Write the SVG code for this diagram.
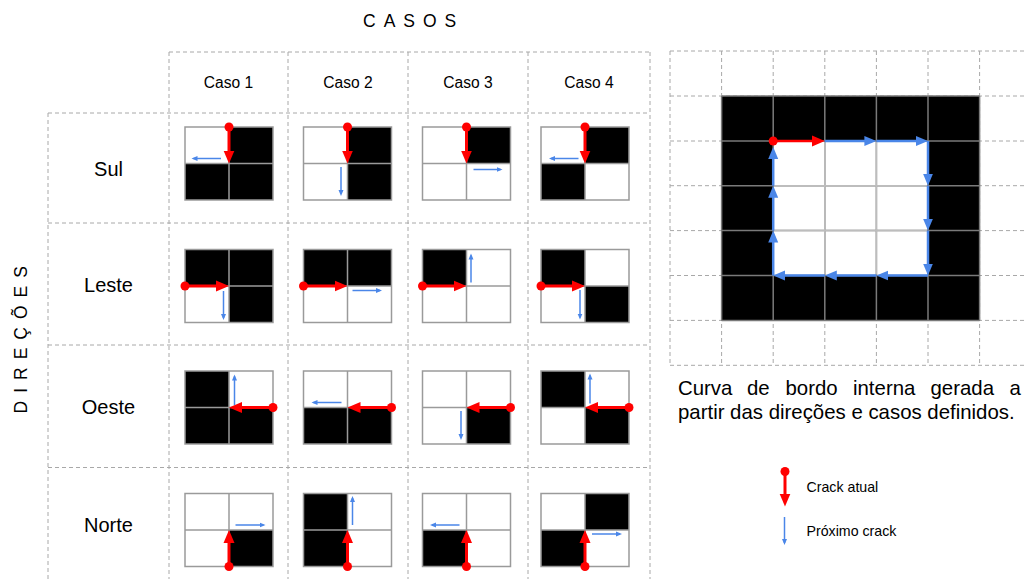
<svg xmlns="http://www.w3.org/2000/svg" width="1024" height="579" viewBox="0 0 1024 579">
<style>
.t{font-family:"Liberation Sans",Arial,sans-serif;fill:#000}
.dash{stroke:#a8a8a8;stroke-width:1;stroke-dasharray:4 3;fill:none}
.w{fill:#fff}
.k{fill:#000}
.grid{stroke:#9a9a9a;stroke-width:1.5;fill:none}
.red{stroke:#f00;stroke-width:3;fill:none;marker-start:url(#dot);marker-end:url(#ra)}
.blue{stroke:#4a86e8;stroke-width:1.5;fill:none;marker-end:url(#ba)}
.bblue{stroke:#4a86e8;stroke-width:2.5;fill:none;marker-end:url(#bb)}
.gred{stroke:#f00;stroke-width:2.5;fill:none;marker-start:url(#dot);marker-end:url(#ra)}
</style>
<defs>
<marker id="ra" markerUnits="userSpaceOnUse" markerWidth="14" markerHeight="12" refX="7" refY="6" orient="auto"><path d="M0,0.5 L13,6 L0,11.5 Z" fill="#f00"/></marker>
<marker id="dot" markerUnits="userSpaceOnUse" markerWidth="10" markerHeight="10" refX="5" refY="5"><circle cx="5" cy="5" r="4.5" fill="#f00"/></marker>
<marker id="ba" markerUnits="userSpaceOnUse" markerWidth="7" markerHeight="6" refX="4" refY="3" orient="auto"><path d="M0,0.5 L6,3 L0,5.5 Z" fill="#4a86e8"/></marker>
<marker id="bb" markerUnits="userSpaceOnUse" markerWidth="13" markerHeight="11" refX="6" refY="5.5" orient="auto"><path d="M0,0.5 L12,5.5 L0,10.5 Z" fill="#4a86e8"/></marker>
</defs>
<rect width="1024" height="579" fill="#fff"/>

<!-- titles -->
<text class="t" x="363" y="26.5" font-size="17.5" letter-spacing="8">CASOS</text>
<text class="t" font-size="17.5" letter-spacing="8" transform="translate(27,413.5) rotate(-90)">DIREÇÕES</text>

<!-- table dashed lines -->
<g id="table" class="dash">
<path d="M169,52H650 M48,113H650 M48,223H650 M48,345H650 M48,467.5H650"/>
<path d="M48,113V580 M169,52V580 M288,52V580 M408,52V580 M528,52V580 M650,52V580"/>
</g>

<g id="headers" class="t" font-size="15.6" text-anchor="middle">
<text x="228.5" y="88">Caso 1</text>
<text x="348" y="88">Caso 2</text>
<text x="468" y="88">Caso 3</text>
<text x="589" y="88">Caso 4</text>
</g>
<g id="rows" class="t" font-size="20" text-anchor="middle">
<text x="108.5" y="176">Sul</text>
<text x="108.5" y="292">Leste</text>
<text x="108.5" y="414">Oeste</text>
<text x="108.5" y="531.5">Norte</text>
</g>

<!-- Sul -->
<g id="sul-c1" transform="translate(185,127)">
<rect class="w" width="88" height="73"/>
<rect class="k" x="44" y="0" width="44" height="36.5"/><rect class="k" x="0" y="36.5" width="44" height="36.5"/><rect class="k" x="44" y="36.5" width="44" height="36.5"/>
<path class="grid" d="M0,0H88V73H0Z M44,0V73 M0,36.5H88"/>
<line class="red" x1="44" y1="0" x2="44" y2="30.5"/>
<line class="blue" x1="36" y1="31.5" x2="8.5" y2="31.5"/>
</g>
<g id="sul-c2" transform="translate(303.5,127)">
<rect class="w" width="88" height="73"/>
<rect class="k" x="44" y="0" width="44" height="36.5"/><rect class="k" x="44" y="36.5" width="44" height="36.5"/>
<path class="grid" d="M0,0H88V73H0Z M44,0V73 M0,36.5H88"/>
<line class="red" x1="44" y1="0" x2="44" y2="30.5"/>
<line class="blue" x1="37.5" y1="40" x2="37.5" y2="67"/>
</g>
<g id="sul-c3" transform="translate(422.5,127)">
<rect class="w" width="88" height="73"/>
<rect class="k" x="44" y="0" width="44" height="36.5"/>
<path class="grid" d="M0,0H88V73H0Z M44,0V73 M0,36.5H88"/>
<line class="red" x1="44" y1="0" x2="44" y2="30.5"/>
<line class="blue" x1="51" y1="42.5" x2="78" y2="42.5"/>
</g>
<g id="sul-c4" transform="translate(541,127)">
<rect class="w" width="88" height="73"/>
<rect class="k" x="44" y="0" width="44" height="36.5"/><rect class="k" x="0" y="36.5" width="44" height="36.5"/>
<path class="grid" d="M0,0H88V73H0Z M44,0V73 M0,36.5H88"/>
<line class="red" x1="44" y1="0" x2="44" y2="30.5"/>
<line class="blue" x1="37.5" y1="31.5" x2="10" y2="31.5"/>
</g>

<!-- Leste -->
<g id="leste-c1" transform="translate(185,249.5)">
<rect class="w" width="88" height="73"/>
<rect class="k" x="0" y="0" width="44" height="36.5"/><rect class="k" x="44" y="0" width="44" height="36.5"/><rect class="k" x="44" y="36.5" width="44" height="36.5"/>
<path class="grid" d="M0,0H88V73H0Z M44,0V73 M0,36.5H88"/>
<line class="red" x1="0" y1="36.5" x2="38" y2="36.5"/>
<line class="blue" x1="38.5" y1="41.5" x2="38.5" y2="68.5"/>
</g>
<g id="leste-c2" transform="translate(303.5,249.5)">
<rect class="w" width="88" height="73"/>
<rect class="k" x="0" y="0" width="44" height="36.5"/><rect class="k" x="44" y="0" width="44" height="36.5"/>
<path class="grid" d="M0,0H88V73H0Z M44,0V73 M0,36.5H88"/>
<line class="red" x1="0" y1="36.5" x2="38" y2="36.5"/>
<line class="blue" x1="49" y1="41" x2="76.5" y2="41"/>
</g>
<g id="leste-c3" transform="translate(422.5,249.5)">
<rect class="w" width="88" height="73"/>
<rect class="k" x="0" y="0" width="44" height="36.5"/>
<path class="grid" d="M0,0H88V73H0Z M44,0V73 M0,36.5H88"/>
<line class="red" x1="0" y1="36.5" x2="38" y2="36.5"/>
<line class="blue" x1="48.5" y1="33" x2="48.5" y2="6"/>
</g>
<g id="leste-c4" transform="translate(541,249.5)">
<rect class="w" width="88" height="73"/>
<rect class="k" x="0" y="0" width="44" height="36.5"/><rect class="k" x="44" y="36.5" width="44" height="36.5"/>
<path class="grid" d="M0,0H88V73H0Z M44,0V73 M0,36.5H88"/>
<line class="red" x1="0" y1="36.5" x2="38" y2="36.5"/>
<line class="blue" x1="39" y1="40.5" x2="39" y2="68"/>
</g>

<!-- Oeste -->
<g id="oeste-c1" transform="translate(185,371)">
<rect class="w" width="88" height="73"/>
<rect class="k" x="0" y="0" width="44" height="36.5"/><rect class="k" x="0" y="36.5" width="44" height="36.5"/><rect class="k" x="44" y="36.5" width="44" height="36.5"/>
<path class="grid" d="M0,0H88V73H0Z M44,0V73 M0,36.5H88"/>
<line class="red" x1="88" y1="36.5" x2="50" y2="36.5"/>
<line class="blue" x1="49.5" y1="34" x2="49.5" y2="5.5"/>
</g>
<g id="oeste-c2" transform="translate(303.5,371)">
<rect class="w" width="88" height="73"/>
<rect class="k" x="0" y="36.5" width="44" height="36.5"/><rect class="k" x="44" y="36.5" width="44" height="36.5"/>
<path class="grid" d="M0,0H88V73H0Z M44,0V73 M0,36.5H88"/>
<line class="red" x1="88" y1="36.5" x2="50" y2="36.5"/>
<line class="blue" x1="38" y1="31.5" x2="10" y2="31.5"/>
</g>
<g id="oeste-c3" transform="translate(422.5,371)">
<rect class="w" width="88" height="73"/>
<rect class="k" x="44" y="36.5" width="44" height="36.5"/>
<path class="grid" d="M0,0H88V73H0Z M44,0V73 M0,36.5H88"/>
<line class="red" x1="88" y1="36.5" x2="50" y2="36.5"/>
<line class="blue" x1="38.5" y1="40" x2="38.5" y2="67"/>
</g>
<g id="oeste-c4" transform="translate(541,371)">
<rect class="w" width="88" height="73"/>
<rect class="k" x="0" y="0" width="44" height="36.5"/><rect class="k" x="44" y="36.5" width="44" height="36.5"/>
<path class="grid" d="M0,0H88V73H0Z M44,0V73 M0,36.5H88"/>
<line class="red" x1="88" y1="36.5" x2="50" y2="36.5"/>
<line class="blue" x1="49" y1="32.5" x2="49" y2="4.5"/>
</g>

<!-- Norte -->
<g id="norte-c1" transform="translate(185,493.5)">
<rect class="w" width="88" height="73"/>
<rect class="k" x="44" y="36.5" width="44" height="36.5"/>
<path class="grid" d="M0,0H88V73H0Z M44,0V73 M0,36.5H88"/>
<line class="red" x1="44" y1="73" x2="44" y2="42.5"/>
<line class="blue" x1="50.5" y1="31.5" x2="78.5" y2="31.5"/>
</g>
<g id="norte-c2" transform="translate(303.5,493.5)">
<rect class="w" width="88" height="73"/>
<rect class="k" x="0" y="0" width="44" height="36.5"/><rect class="k" x="0" y="36.5" width="44" height="36.5"/>
<path class="grid" d="M0,0H88V73H0Z M44,0V73 M0,36.5H88"/>
<line class="red" x1="44" y1="73" x2="44" y2="42.5"/>
<line class="blue" x1="49" y1="31.5" x2="49" y2="4.5"/>
</g>
<g id="norte-c3" transform="translate(422.5,493.5)">
<rect class="w" width="88" height="73"/>
<rect class="k" x="0" y="36.5" width="44" height="36.5"/>
<path class="grid" d="M0,0H88V73H0Z M44,0V73 M0,36.5H88"/>
<line class="red" x1="44" y1="73" x2="44" y2="42.5"/>
<line class="blue" x1="37" y1="31.5" x2="9.5" y2="31.5"/>
</g>
<g id="norte-c4" transform="translate(541,493.5)">
<rect class="w" width="88" height="73"/>
<rect class="k" x="44" y="0" width="44" height="36.5"/><rect class="k" x="0" y="36.5" width="44" height="36.5"/>
<path class="grid" d="M0,0H88V73H0Z M44,0V73 M0,36.5H88"/>
<line class="red" x1="44" y1="73" x2="44" y2="42.5"/>
<line class="blue" x1="51" y1="40.5" x2="79" y2="40.5"/>
</g>

<!-- right grid -->
<g id="big-grid">
<path class="dash" d="M670,51H1024 M670,96H1024 M670,141H1024 M670,185.7H1024 M670,230.6H1024 M670,275.5H1024 M670,320.4H1024 M670,365.3H1024 M670,51V365.3 M721.6,51V365.3 M773.2,51V365.3 M824.8,51V365.3 M876.4,51V365.3 M928,51V365.3 M979.6,51V365.3"/>
<rect class="k" x="721.6" y="96" width="258" height="224.4"/>
<rect class="w" x="773.2" y="141" width="154.8" height="134.5"/>
<path stroke="#7a7a7a" stroke-width="1.5" fill="none" d="M721.6,96H979.6 M721.6,141H979.6 M721.6,185.7H979.6 M721.6,230.6H979.6 M721.6,275.5H979.6 M721.6,320.4H979.6 M721.6,96V320.4 M773.2,96V320.4 M824.8,96V320.4 M876.4,96V320.4 M928,96V320.4 M979.6,96V320.4"/>
<path stroke="#bdbdbd" stroke-width="1.5" fill="none" d="M774,185.7H927 M774,230.6H927 M824.8,142V274.5 M876.4,142V274.5"/>
</g>
<g id="connectors">
<line class="bblue" x1="824.8" y1="141" x2="870.4" y2="141"/>
<line class="bblue" x1="876.4" y1="141" x2="922" y2="141"/>
<line class="bblue" x1="928" y1="141" x2="928" y2="179.7"/>
<line class="bblue" x1="928" y1="185.7" x2="928" y2="224.6"/>
<line class="bblue" x1="928" y1="230.6" x2="928" y2="269.5"/>
<line class="bblue" x1="928" y1="275.5" x2="882.4" y2="275.5"/>
<line class="bblue" x1="876.4" y1="275.5" x2="830.8" y2="275.5"/>
<line class="bblue" x1="824.8" y1="275.5" x2="779.2" y2="275.5"/>
<line class="bblue" x1="773.2" y1="275.5" x2="773.2" y2="236.6"/>
<line class="bblue" x1="773.2" y1="230.6" x2="773.2" y2="191.7"/>
<line class="bblue" x1="773.2" y1="185.7" x2="773.2" y2="153"/>
<line class="gred" x1="773.2" y1="141" x2="818.8" y2="141"/>
</g>

<g id="caption" class="t" font-size="20.4">
<text y="395"><tspan x="678">Curva</tspan><tspan x="747">de</tspan><tspan x="785.5">bordo</tspan><tspan x="853">interna</tspan><tspan x="930.5">gerada</tspan><tspan x="1009.5">a</tspan></text>
<text x="678" y="419">partir das direções e casos definidos.</text>
</g>

<g id="legend">
<line class="red" x1="785" y1="471.5" x2="785" y2="500.5"/>
<line class="blue" x1="784.5" y1="517" x2="784.5" y2="543"/>
<text class="t" x="806.5" y="491.5" font-size="14.2">Crack atual</text>
<text class="t" x="806.5" y="536" font-size="14.2">Próximo crack</text>
</g>
</svg>
